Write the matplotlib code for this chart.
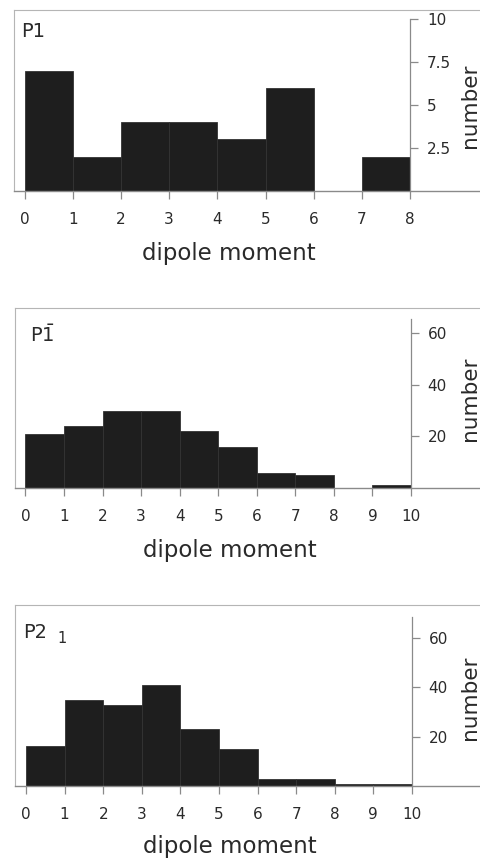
import matplotlib
matplotlib.use('Agg')
import matplotlib.pyplot as plt

plt.rcParams['font.family'] = ['DejaVu Sans']
plt.rcParams['mathtext.fontset'] = 'dejavusans'
plt.rcParams['mathtext.default'] = 'regular'

# histogram counts per unit bin of dipole moment
p1_edges = [0, 1, 2, 3, 4, 5, 6, 7]
p1_counts = [7, 2, 4, 4, 3, 6, 0, 2]
p1bar_edges = [0, 1, 2, 3, 4, 5, 6, 7, 8, 9]
p1bar_counts = [21, 24, 30, 30, 22, 16, 6, 5, 0, 1]
p21_edges = [0, 1, 2, 3, 4, 5, 6, 7, 8, 9]
p21_counts = [16, 35, 33, 41, 23, 15, 3, 3, 1, 1]

p1_xticks = [0, 1, 2, 3, 4, 5, 6, 7, 8]
p1_yticks = [2.5, 5, 7.5, 10]
p1_yticklabels = ['2.5', '5', '7.5', '10']
wide_xticks = [0, 1, 2, 3, 4, 5, 6, 7, 8, 9, 10]
wide_yticks = [20, 40, 60]

W, H = 481, 858
fig = plt.figure(figsize=(W / 100, H / 100), dpi=100)


def px_axes(left, top, bottom, right=482):
    return fig.add_axes([left / W, (H - bottom) / H, (right - left) / W, (bottom - top) / H])


def panel(ax, edges, counts, xlim, ylim, xend, ytop, xticks, yticks, yticklabels,
          title, title_xy, xlab_xy, ylab_xy):
    ax.bar(edges, counts, width=1, align='edge', color='#1e1e1e',
           edgecolor='#333333', linewidth=0.6, zorder=2)
    ax.set_xlim(*xlim)
    ax.set_ylim(*ylim)

    for s in ['top', 'left']:
        ax.spines[s].set_color('#b5b5b5')
        ax.spines[s].set_linewidth(0.8)
    ax.spines['bottom'].set_color('#8a8a8a')
    ax.spines['bottom'].set_linewidth(1.0)
    ax.spines['bottom'].set_zorder(3)
    ax.spines['right'].set_position(('data', xend))
    ax.spines['right'].set_bounds(0, ytop)
    ax.spines['right'].set_color('#8a8a8a')
    ax.spines['right'].set_linewidth(0.9)

    ax.set_xticks(xticks)
    ax.set_xticklabels([str(t) for t in xticks])
    ax.set_yticks(yticks)
    ax.set_yticklabels(yticklabels)
    ax.yaxis.tick_right()
    ax.tick_params(axis='x', direction='out', length=6, width=0.9, color='#8a8a8a',
                   pad=9, labelsize=11, labelcolor='#2a2a2a')
    ax.tick_params(axis='y', direction='out', length=6, width=0.9, color='#8a8a8a',
                   pad=6, labelsize=11, labelcolor='#2a2a2a')

    ax.text(title_xy[0], title_xy[1], title, transform=ax.transAxes,
            fontsize=14, color='#2a2a2a', ha='left', va='baseline')
    ax.text(xlab_xy[0], xlab_xy[1], 'dipole moment', transform=ax.transAxes,
            fontsize=16.5, color='#2a2a2a', ha='center', va='baseline', clip_on=False)
    ax.text(ylab_xy[0], ylab_xy[1], 'number', transform=ax.transAxes, rotation=90,
            fontsize=15.5, color='#2a2a2a', ha='center', va='center', clip_on=False)


ax1 = px_axes(14, 10, 191)
panel(ax1, p1_edges, p1_counts, (-0.218, 9.49), (0, 10.52), 8, 10,
      p1_xticks, p1_yticks, p1_yticklabels, 'P1',
      (0.015, 0.851), (0.459, -0.381), (0.974, 0.47))

ax2 = px_axes(15, 308, 488)
panel(ax2, p1bar_edges, p1bar_counts, (-0.272, 11.84), (0, 69.8), 10, 65.5,
      wide_xticks, wide_yticks, [str(t) for t in wide_yticks], r'P$\bar{1}$',
      (0.032, 0.811), (0.46, -0.382), (0.974, 0.494))

ax3 = px_axes(15.5, 604.5, 786)
panel(ax3, p21_edges, p21_counts, (-0.272, 11.815), (0, 73.5), 10, 68.5,
      wide_xticks, wide_yticks, [str(t) for t in wide_yticks], 'P2',
      (0.016, 0.815), (0.46, -0.371), (0.974, 0.485))
# subscript of the space group name
ax3.text(0.089, 0.788, '1', transform=ax3.transAxes, fontsize=10.5,
         color='#2a2a2a', ha='left', va='baseline')

fig.savefig('out.png', dpi=100)
